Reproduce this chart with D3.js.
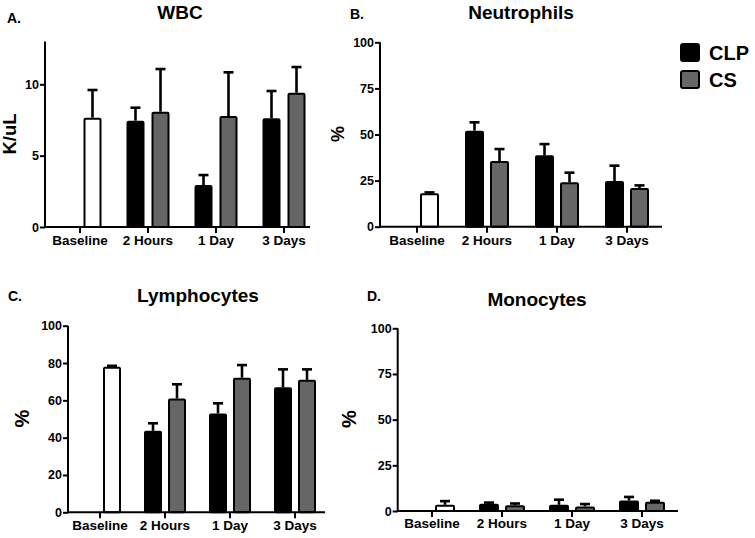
<!DOCTYPE html>
<html><head><meta charset="utf-8">
<script src="https://cdn.jsdelivr.net/npm/d3@7/dist/d3.min.js"></script>
<style>body{margin:0;background:#fff}svg{display:block}text{font-family:"Liberation Sans",Arial,sans-serif;font-weight:bold;fill:#000}</style>
</head><body>
<svg id="c" width="755" height="538"></svg>
<script>
// ---- data ----
const categories = ["Baseline", "2 Hours", "1 Day", "3 Days"];
const series = ["CLP", "CS"];
const seriesColors = ["#000000", "#666666"];

// WBC (K/uL)
const wbcBaseline = 7.66, wbcBaselineErr = 1.94;
const wbcCLP = [null, 7.45, 2.94, 7.62];
const wbcCLPErr = [null, 0.91, 0.70, 1.91];
const wbcCS = [null, 8.08, 7.78, 9.41];
const wbcCSErr = [null, 2.99, 3.06, 1.80];
const wbcTicks = [0, 5, 10];

// Neutrophils (%)
const neuBaseline = 18.1, neuBaselineErr = 0.5;
const neuCLP = [null, 52.1, 38.7, 24.8];
const neuCLPErr = [null, 4.5, 6.1, 8.3];
const neuCS = [null, 35.6, 24.1, 21.0];
const neuCSErr = [null, 6.5, 5.2, 1.4];
const neuTicks = [0, 25, 50, 75, 100];

// Lymphocytes (%)
const lymBaseline = 78.0, lymBaselineErr = 0.5;
const lymCLP = [null, 43.7, 53.0, 67.0];
const lymCLPErr = [null, 4.0, 5.4, 9.6];
const lymCS = [null, 61.0, 72.1, 71.0];
const lymCSErr = [null, 7.6, 6.8, 5.6];
const lymTicks = [0, 20, 40, 60, 80, 100];

// Monocytes (%)
const monBaseline = 3.4, monBaselineErr = 2.0;
const monCLP = [null, 3.9, 3.4, 5.8];
const monCLPErr = [null, 0.7, 2.8, 1.9];
const monCS = [null, 3.2, 2.5, 5.0];
const monCSErr = [null, 0.9, 1.3, 0.6];
const monTicks = [0, 25, 50, 75, 100];

// ---- drawing ----
const svg = d3.select("#c");

function panel(p) {
  const g = svg.append("g");
  const x = d3.scaleBand().domain(categories).range(p.band);
  const y = d3.scaleLinear().domain([0, p.ymax]).range([p.y0, p.yTop]);
  const gap = p.gap, w = p.w;
  const xs = d3.scaleBand().domain(series).range([-(w + gap), w + gap])
    .paddingInner(2 * gap / (w + 2 * gap)).paddingOuter(0);
  const cx = c => x(c) + x.bandwidth() / 2;

  const bars = [];
  categories.forEach((c, i) => {
    if (i === 0) {
      bars.push({c, s: "CS", v: p.base, e: p.baseErr, fill: "#ffffff"});
    } else {
      bars.push({c, s: "CLP", v: p.clp[i], e: p.clpErr[i], fill: seriesColors[0]});
      bars.push({c, s: "CS", v: p.cs[i], e: p.csErr[i], fill: seriesColors[1]});
    }
  });

  // error bars (up only)
  bars.forEach(b => {
    const bx = cx(b.c) + xs(b.s) + xs.bandwidth() / 2;
    g.append("line").attr("x1", bx).attr("x2", bx)
      .attr("y1", y(b.v)).attr("y2", y(b.v + b.e))
      .attr("stroke", "#000").attr("stroke-width", 2.6);
    g.append("line").attr("x1", bx - 5).attr("x2", bx + 5)
      .attr("y1", y(b.v + b.e)).attr("y2", y(b.v + b.e))
      .attr("stroke", "#000").attr("stroke-width", 2.6);
  });
  // bars
  bars.forEach(b => {
    const bx = cx(b.c) + xs(b.s);
    g.append("rect").attr("x", bx + 1).attr("width", xs.bandwidth() - 2)
      .attr("y", y(b.v) + 1).attr("height", Math.max(0, y(0) - y(b.v) - 1))
      .attr("fill", b.fill).attr("stroke", "#000").attr("stroke-width", 2)
      .attr("rx", 1);
  });

  // y axis
  const ya = g.append("g").attr("transform", `translate(${p.ax},0)`)
    .call(d3.axisLeft(y).tickValues(p.ticks).tickSize(5).tickPadding(1).tickFormat(d3.format("d")));
  ya.select(".domain").remove();
  ya.selectAll(".tick line").attr("stroke", "#000").attr("stroke-width", 2);
  ya.selectAll(".tick text").style("font-size", "12.5px").style("font-weight", "bold")
    .style("font-family", "Liberation Sans, Arial, sans-serif").attr("fill", "#000");
  g.append("line").attr("x1", p.ax).attr("x2", p.ax).attr("y1", y(0) + 1).attr("y2", y(p.ymax))
    .attr("stroke", "#000").attr("stroke-width", 2);

  // x axis
  g.append("line").attr("x1", p.ax - 1).attr("x2", p.xEnd).attr("y1", y(0)).attr("y2", y(0))
    .attr("stroke", "#000").attr("stroke-width", 2);
  categories.forEach(c => {
    g.append("line").attr("x1", cx(c)).attr("x2", cx(c)).attr("y1", y(0)).attr("y2", y(0) + 6)
      .attr("stroke", "#000").attr("stroke-width", 2);
    g.append("text").attr("x", cx(c)).attr("y", p.xLabY).attr("text-anchor", "middle")
      .style("font-size", "13.5px").text(c);
  });

  // title, letter, y label
  g.append("text").attr("x", p.titleX).attr("y", p.titleY).attr("text-anchor", "middle")
    .style("font-size", "19px").text(p.title);
  g.append("text").attr("x", p.letterX).attr("y", p.letterY)
    .style("font-size", "14px").text(p.letter);
  g.append("text").attr("transform", `translate(${p.ylabX},${p.ylabY}) rotate(-90)`)
    .attr("text-anchor", "middle").style("font-size", p.ylabSize + "px").text(p.ylab);
}

panel({band: [46, 318], ax: 45, xEnd: 310, y0: 227, yTop: 41.5, ymax: 13, ticks: wbcTicks,
  w: 18, gap: 3.5, base: wbcBaseline, baseErr: wbcBaselineErr, clp: wbcCLP, clpErr: wbcCLPErr,
  cs: wbcCS, csErr: wbcCSErr, xLabY: 245, title: "WBC", titleX: 180, titleY: 19,
  letter: "A.", letterX: 7, letterY: 23, ylab: "K/uL", ylabX: 16, ylabY: 134, ylabSize: 18.5});

panel({band: [382, 662], ax: 380, xEnd: 662, y0: 226.7, yTop: 42.3, ymax: 100, ticks: neuTicks,
  w: 19, gap: 3, base: neuBaseline, baseErr: neuBaselineErr, clp: neuCLP, clpErr: neuCLPErr,
  cs: neuCS, csErr: neuCSErr, xLabY: 245, title: "Neutrophils", titleX: 521, titleY: 19,
  letter: "B.", letterX: 350, letterY: 19, ylab: "%", ylabX: 344, ylabY: 134, ylabSize: 18});

panel({band: [67.5, 327.5], ax: 68, xEnd: 325, y0: 512.3, yTop: 325.7, ymax: 100, ticks: lymTicks,
  w: 18, gap: 3, base: lymBaseline, baseErr: lymBaselineErr, clp: lymCLP, clpErr: lymCLPErr,
  cs: lymCS, csErr: lymCSErr, xLabY: 530, title: "Lymphocytes", titleX: 198, titleY: 302,
  letter: "C.", letterX: 8, letterY: 301, ylab: "%", ylabX: 29, ylabY: 418.5, ylabSize: 20});

panel({band: [397, 677], ax: 397.7, xEnd: 678, y0: 511, yTop: 328.3, ymax: 100, ticks: monTicks,
  w: 20, gap: 3, base: monBaseline, baseErr: monBaselineErr, clp: monCLP, clpErr: monCLPErr,
  cs: monCS, csErr: monCSErr, xLabY: 528, title: "Monocytes", titleX: 537, titleY: 306,
  letter: "D.", letterX: 367, letterY: 301, ylab: "%", ylabX: 356, ylabY: 419, ylabSize: 20});

// legend
const leg = svg.append("g");
series.forEach((s, i) => {
  const ly = 43 + i * 27;
  leg.append("rect").attr("x", 681).attr("y", ly + 1).attr("width", 18).attr("height", 17)
    .attr("rx", 2).attr("fill", seriesColors[i]).attr("stroke", "#000").attr("stroke-width", 2);
  leg.append("text").attr("x", 709).attr("y", ly + 17).style("font-size", "20px").text(s);
});
</script>
</body></html>
